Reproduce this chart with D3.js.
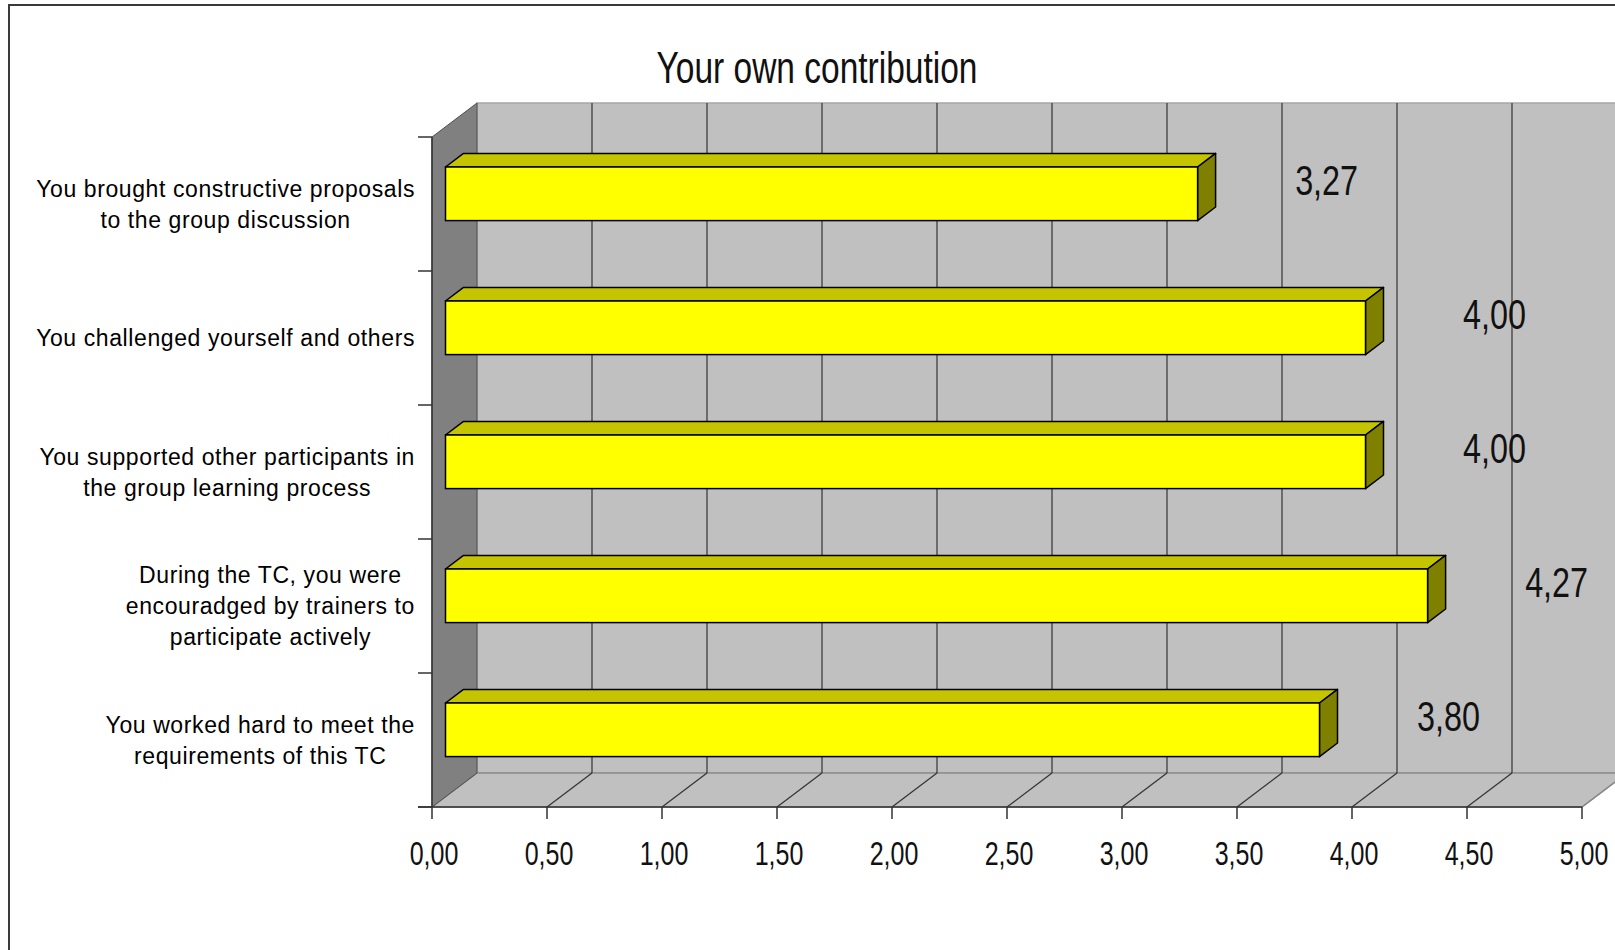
<!DOCTYPE html>
<html>
<head>
<meta charset="utf-8">
<script src="https://cdn.jsdelivr.net/npm/d3@7"></script>
<style>
  html, body { margin: 0; padding: 0; background: #fff; overflow: hidden; }
  .narrow { font-family: "Liberation Sans", Arial, sans-serif; fill: #111; }
  .cat { font-family: "Liberation Sans", Arial, sans-serif; font-size: 23px; letter-spacing: 0.6px; fill: #000; }
</style>
</head>
<body>
<svg id="chart" width="1615" height="950"></svg>
<script>
// Survey statements (top to bottom) and their mean scores
const categories = [
  "You brought constructive proposals\nto the group discussion",
  "You challenged yourself and others",
  "You supported other participants in\nthe group learning process",
  "During the TC, you were\nencouradged by trainers to\nparticipate actively",
  "You worked hard to meet the\nrequirements of this TC"
];
const scores = [3.27, 4.00, 4.00, 4.27, 3.80];
const xTicks = [0, 0.5, 1, 1.5, 2, 2.5, 3, 3.5, 4, 4.5, 5];
const title = "Your own contribution";

(function draw() {
  const fmt = v => d3.format(".2f")(v).replace(".", ",");
  const svg = d3.select("#chart");

  // writes horizontally condensed text centred on (x, y)
  const narrowText = (parent, x, y, size, str, squeeze = 0.77) => parent.append("text")
    .attr("class", "narrow")
    .attr("transform", `translate(${x},${y}) scale(${squeeze},1)`)
    .attr("text-anchor", "middle")
    .attr("font-size", size)
    .text(str);

  // chart frame
  svg.append("rect")
    .attr("x", 9).attr("y", 5).attr("width", 1700).attr("height", 1000)
    .attr("fill", "#fff").attr("stroke", "#3a3a3a").attr("stroke-width", 2);

  // front plane of the 3D box
  const pLeft = 432, pRight = 1582, pTop = 137, pBottom = 807;
  const DX = 45, DY = -34;            // depth offset of the back wall
  const x = d3.scaleLinear().domain([0, 5]).range([pLeft, pRight]);
  const y = d3.scaleBand().domain(categories).range([pTop, pBottom])
    .paddingInner(0.6).paddingOuter(0.3);
  const step = y.step();

  // position inside the box depth (0 = front, 1 = back)
  const barFront = 0.3, barBack = 0.7;
  const off = d => [DX * d, DY * d];
  const line = d3.line();

  // back wall
  svg.append("path")
    .attr("d", line([[pLeft + DX, pTop + DY], [pRight + DX, pTop + DY], [pRight + DX, pBottom + DY], [pLeft + DX, pBottom + DY]]) + "Z")
    .attr("fill", "#c0c0c0").attr("stroke", "#a6a6a6").attr("stroke-width", 1.5);

  // floor
  svg.append("path")
    .attr("d", line([[pLeft, pBottom], [pRight, pBottom], [pRight + DX, pBottom + DY], [pLeft + DX, pBottom + DY]]) + "Z")
    .attr("fill", "#c0c0c0").attr("stroke", "#8a8a8a").attr("stroke-width", 1.5);

  // left side wall
  svg.append("path")
    .attr("d", line([[pLeft, pTop], [pLeft + DX, pTop + DY], [pLeft + DX, pBottom + DY], [pLeft, pBottom]]) + "Z")
    .attr("fill", "#808080").attr("stroke", "#505050").attr("stroke-width", 1);

  // grid lines on the back wall and the floor
  const grid = svg.append("g").attr("stroke", "#333").attr("stroke-width", 1.2);
  xTicks.filter(t => t > 0).forEach(t => {
    grid.append("line")
      .attr("x1", x(t) + DX).attr("x2", x(t) + DX)
      .attr("y1", pTop + DY).attr("y2", pBottom + DY);
    grid.append("line")
      .attr("x1", x(t)).attr("x2", x(t) + DX)
      .attr("y1", pBottom).attr("y2", pBottom + DY)
      .attr("stroke", t === 5 ? "#8a8a8a" : "#333");
  });

  // axes
  const axes = svg.append("g").attr("stroke", "#333").attr("stroke-width", 1.5);
  axes.append("line").attr("x1", pLeft).attr("x2", pLeft).attr("y1", pTop).attr("y2", pBottom);
  axes.append("line").attr("x1", pLeft - 14).attr("x2", pRight).attr("y1", pBottom).attr("y2", pBottom);
  d3.range(categories.length + 1).forEach(i => {
    const yy = pTop + i * step;
    axes.append("line").attr("x1", pLeft - 14).attr("x2", pLeft).attr("y1", yy).attr("y2", yy);
  });
  xTicks.forEach(t => {
    axes.append("line").attr("x1", x(t)).attr("x2", x(t)).attr("y1", pBottom).attr("y2", pBottom + 12);
  });

  // x tick labels
  const tickG = svg.append("g");
  xTicks.forEach(t => narrowText(tickG, x(t) + 2, pBottom + 58, 32.5, fmt(t)));

  // 3D bars
  const [fx, fy] = off(barFront);
  const [bx, by] = off(barBack);
  const ddx = bx - fx, ddy = by - fy;
  svg.append("g").selectAll("g").data(categories).join("g").each(function (c, i) {
    const g = d3.select(this);
    const x0 = x(0) + fx, x1 = x(scores[i]) + fx;
    const y0 = y(c) + fy, y1 = y(c) + y.bandwidth() + fy;
    // top face
    g.append("path")
      .attr("d", line([[x0, y0], [x1, y0], [x1 + ddx, y0 + ddy], [x0 + ddx, y0 + ddy]]) + "Z")
      .attr("fill", "#c4c400").attr("stroke", "#000").attr("stroke-width", 1.5).attr("stroke-linejoin", "round");
    // end face
    g.append("path")
      .attr("d", line([[x1, y0], [x1 + ddx, y0 + ddy], [x1 + ddx, y1 + ddy], [x1, y1]]) + "Z")
      .attr("fill", "#808000").attr("stroke", "#000").attr("stroke-width", 1.5).attr("stroke-linejoin", "round");
    // front face
    g.append("rect")
      .attr("x", x0).attr("y", y0).attr("width", x1 - x0).attr("height", y1 - y0)
      .attr("fill", "#ffff00").attr("stroke", "#000").attr("stroke-width", 1.5);
  });

  // value labels
  const valG = svg.append("g");
  categories.forEach((c, i) => {
    narrowText(valG, x(scores[i]) + fx + 129, y(c) + y.bandwidth() / 2 + fy + 1, 42, fmt(scores[i]));
  });

  // category labels: centred lines, block right-aligned to the axis
  const labelRight = 415, lineH = 31;
  categories.forEach(c => {
    const lines = c.split("\n");
    const g = svg.append("g");
    const cy = y(c) + y.bandwidth() / 2;
    const texts = lines.map((s, k) => g.append("text")
      .attr("class", "cat")
      .attr("y", cy + (k - (lines.length - 1) / 2) * lineH)
      .attr("dy", "0.35em")
      .attr("text-anchor", "middle")
      .text(s));
    const w = d3.max(texts, t => t.node().getComputedTextLength());
    texts.forEach(t => t.attr("x", labelRight - w / 2));
  });

  // title
  narrowText(svg, 817, 83, 45, title, 0.745);
})();
</script>
</body>
</html>
